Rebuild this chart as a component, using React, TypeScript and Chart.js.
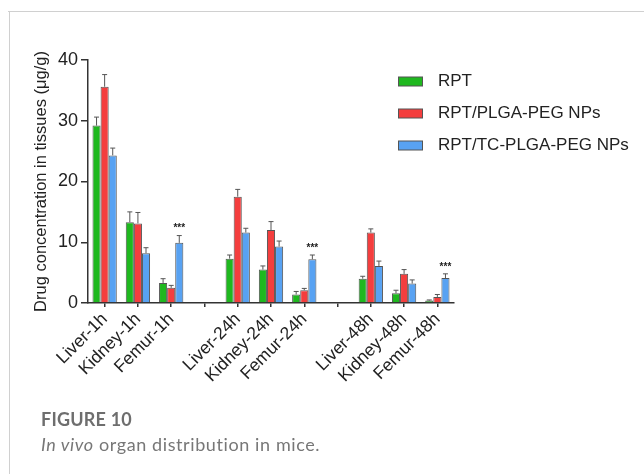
import React, { useEffect, useRef } from 'react';
import { Chart, registerables } from 'chart.js';

Chart.register(...registerables);

const categories = ['Liver-1h', 'Kidney-1h', 'Femur-1h', '', 'Liver-24h', 'Kidney-24h', 'Femur-24h', '', 'Liver-48h', 'Kidney-48h', 'Femur-48h'];
const seriesNames = ['RPT', 'RPT/PLGA-PEG NPs', 'RPT/TC-PLGA-PEG NPs'];
const rptValues = [29.2, 13.3, 3.3, null, 7.3, 5.5, 1.4, null, 4.0, 1.6, 0.4];
const rptErrors = [1.4, 1.7, 0.7, null, 0.6, 0.6, 0.5, null, 0.4, 0.5, 0.1];
const plgaValues = [35.6, 13.1, 2.5, null, 17.5, 12.0, 2.1, null, 11.6, 4.8, 1.0];
const plgaErrors = [2.0, 1.8, 0.4, null, 1.2, 1.4, 0.3, null, 0.6, 0.7, 0.4];
const tcValues = [24.3, 8.2, 9.9, null, 11.6, 9.3, 7.2, null, 6.1, 3.2, 4.1];
const tcErrors = [1.2, 0.9, 1.2, null, 0.7, 0.9, 0.7, null, 0.8, 0.6, 0.7];
const significance = ['', '', '***', '', '', '', '***', '', '', '', '***'];
const yTicks = [0, 10, 20, 30, 40];
const seriesColors = ['#1fb81f', '#f43e3e', '#58a2f2'];

const FONT = "'Liberation Sans', Arial, sans-serif";

const errorBarPlugin = {
  id: 'errorBars',
  afterDatasetsDraw(chart: any) {
    const ctx = chart.ctx;
    const yScale = chart.scales.y;
    chart.data.datasets.forEach((ds: any, i: number) => {
      const meta = chart.getDatasetMeta(i);
      meta.data.forEach((el: any, j: number) => {
        const v = ds.data[j];
        const e = ds.errors[j];
        if (v == null || e == null) return;
        const yTop = yScale.getPixelForValue(v + e);
        ctx.save();
        ctx.strokeStyle = '#555';
        ctx.lineWidth = 1;
        ctx.beginPath();
        ctx.moveTo(el.x, el.y);
        ctx.lineTo(el.x, yTop);
        ctx.moveTo(el.x - 2.5, yTop);
        ctx.lineTo(el.x + 2.5, yTop);
        ctx.stroke();
        if (ds.marks && ds.marks[j]) {
          ctx.fillStyle = '#222';
          ctx.font = `bold 10px ${FONT}`;
          ctx.textAlign = 'center';
          ctx.textBaseline = 'middle';
          ctx.fillText(ds.marks[j], el.x, yTop - 7);
        }
        ctx.restore();
      });
    });
  },
};

const legendPlugin = {
  id: 'customLegend',
  afterDraw(chart: any) {
    const ctx = chart.ctx;
    const rows = [81.5, 113.5, 145.5];
    chart.data.datasets.forEach((ds: any, i: number) => {
      const y = rows[i];
      ctx.save();
      ctx.fillStyle = ds.backgroundColor;
      ctx.fillRect(398, y - 4.5, 24, 9);
      ctx.strokeStyle = '#555';
      ctx.lineWidth = 1;
      ctx.strokeRect(398.5, y - 4.5, 24, 9);
      ctx.fillStyle = '#222';
      ctx.font = `17px ${FONT}`;
      ctx.textAlign = 'left';
      ctx.textBaseline = 'middle';
      ctx.fillText(ds.label, 438, y);
      ctx.restore();
    });
  },
};

export default function App() {
  const ref = useRef<HTMLCanvasElement | null>(null);

  useEffect(() => {
    if (!ref.current) return;
    const values = [rptValues, plgaValues, tcValues];
    const errors = [rptErrors, plgaErrors, tcErrors];
    const chart = new Chart(ref.current, {
      type: 'bar',
      data: {
        labels: categories,
        datasets: seriesNames.map((name, i) => ({
          label: name,
          data: values[i],
          errors: errors[i],
          marks: i === 2 ? significance : null,
          backgroundColor: seriesColors[i],
          borderColor: '#555',
          borderWidth: 1,
          categoryPercentage: 0.73,
          barPercentage: 1,
        })) as any,
      },
      options: {
        animation: false,
        responsive: false,
        maintainAspectRatio: false,
        layout: { padding: { left: 28, top: 60, right: 190, bottom: 0 } },
        plugins: { legend: { display: false }, tooltip: { enabled: false } },
        scales: {
          x: {
            afterFit(scale: any) {
              scale.height = 171;
            },
            grid: { display: true, drawOnChartArea: false, drawTicks: true, tickLength: 4, offset: false, color: '#333', lineWidth: 1.5 },
            border: { display: true, color: '#333', width: 1.5 },
            ticks: {
              autoSkip: false,
              minRotation: 45,
              maxRotation: 45,
              padding: 2,
              color: '#222',
              font: { family: FONT, size: 17.5 },
            },
          },
          y: {
            min: 0,
            max: 40,
            afterFit(scale: any) {
              scale.width = 60;
            },
            afterBuildTicks(scale: any) {
              scale.ticks = yTicks.map((v) => ({ value: v }));
            },
            grid: { display: true, drawOnChartArea: false, drawTicks: true, tickLength: 7, color: '#333', lineWidth: 1.5 },
            border: { display: true, color: '#333', width: 1.5 },
            ticks: {
              padding: 3,
              color: '#222',
              font: { family: FONT, size: 18 },
            },
            title: {
              display: true,
              text: 'Drug concentration in tissues (μg/g)',
              color: '#222',
              font: { family: FONT, size: 16.5 },
              padding: { top: 4, bottom: 4 },
            },
          },
        },
      },
      plugins: [errorBarPlugin, legendPlugin],
    } as any);
    return () => chart.destroy();
  }, []);

  return (
    <div style={{ position: 'fixed', left: 0, top: 0, width: 644, height: 474, background: '#fff', overflow: 'hidden' }}>
      <div style={{ position: 'absolute', left: 8, top: 11, width: 636, height: 1, background: '#d0d0d0' }} />
      <div style={{ position: 'absolute', left: 9, top: 11, width: 1, height: 463, background: '#d0d0d0' }} />
      <canvas ref={ref} width={644} height={474} style={{ position: 'absolute', left: 0, top: 0, width: 644, height: 474 }} />
      <div style={{ position: 'absolute', left: 41, top: 409, fontFamily: 'Lato, sans-serif', fontWeight: 700, fontSize: 18, letterSpacing: 0.2, color: '#6e6e6e', lineHeight: '20px' }}>
        FIGURE 10
      </div>
      <div style={{ position: 'absolute', left: 41, top: 433, fontFamily: 'Lato, sans-serif', fontSize: 18, letterSpacing: 0.6, color: '#777', lineHeight: '22px' }}>
        <i>In vivo</i> organ distribution in mice.
      </div>
    </div>
  );
}
